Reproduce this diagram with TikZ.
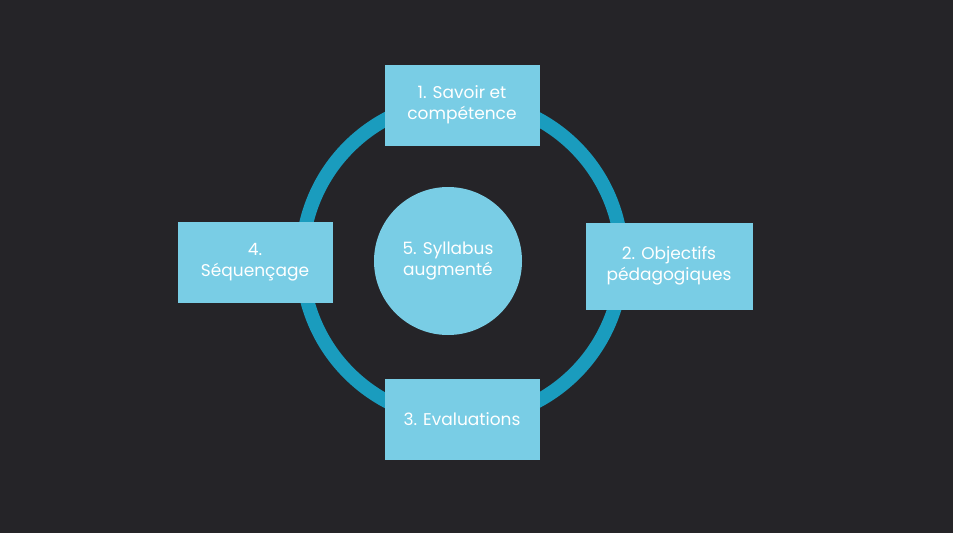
\documentclass[tikz,border=0pt]{standalone}
\usepackage{fontspec}
\setmainfont{Poppins}
\usetikzlibrary{positioning}
\definecolor{bgdark}{HTML}{252428}
\definecolor{ringblue}{HTML}{1A9CBE}
\definecolor{boxblue}{HTML}{79CDE5}

\begin{document}
\begin{tikzpicture}[x=1pt, y=-1pt,
  stage/.style={fill=boxblue, minimum width=155pt, minimum height=81pt, align=center,
    text=white, font=\fontsize{17}{21}\selectfont, inner sep=2pt},
  hub/.style={circle, fill=boxblue, minimum size=148pt, align=center,
    text=white, font=\fontsize{17}{21}\selectfont}]

  % background and frame
  \fill[bgdark] (0,0) rectangle (953,533);
  \useasboundingbox (0,0) rectangle (953,533);

  % ring behind the stages
  \draw[ringblue, line width=14pt] (462,260) circle (160);

  % the four stages around the ring
  \node[stage] (savoir) at (462,105) {1. Savoir et\\compétence};
  \node[stage, minimum width=167pt, minimum height=87pt] (objectifs) at (669,266) {2. Objectifs\\pédagogiques};
  \node[stage] (evaluations) at (462,419) {3. Evaluations};
  \node[stage] (sequencage) at (255,262) {4.\\Séquençage};

  % centre
  \node[hub] (syllabus) at (448,261) {5. Syllabus\\augmenté};

\end{tikzpicture}
\end{document}
